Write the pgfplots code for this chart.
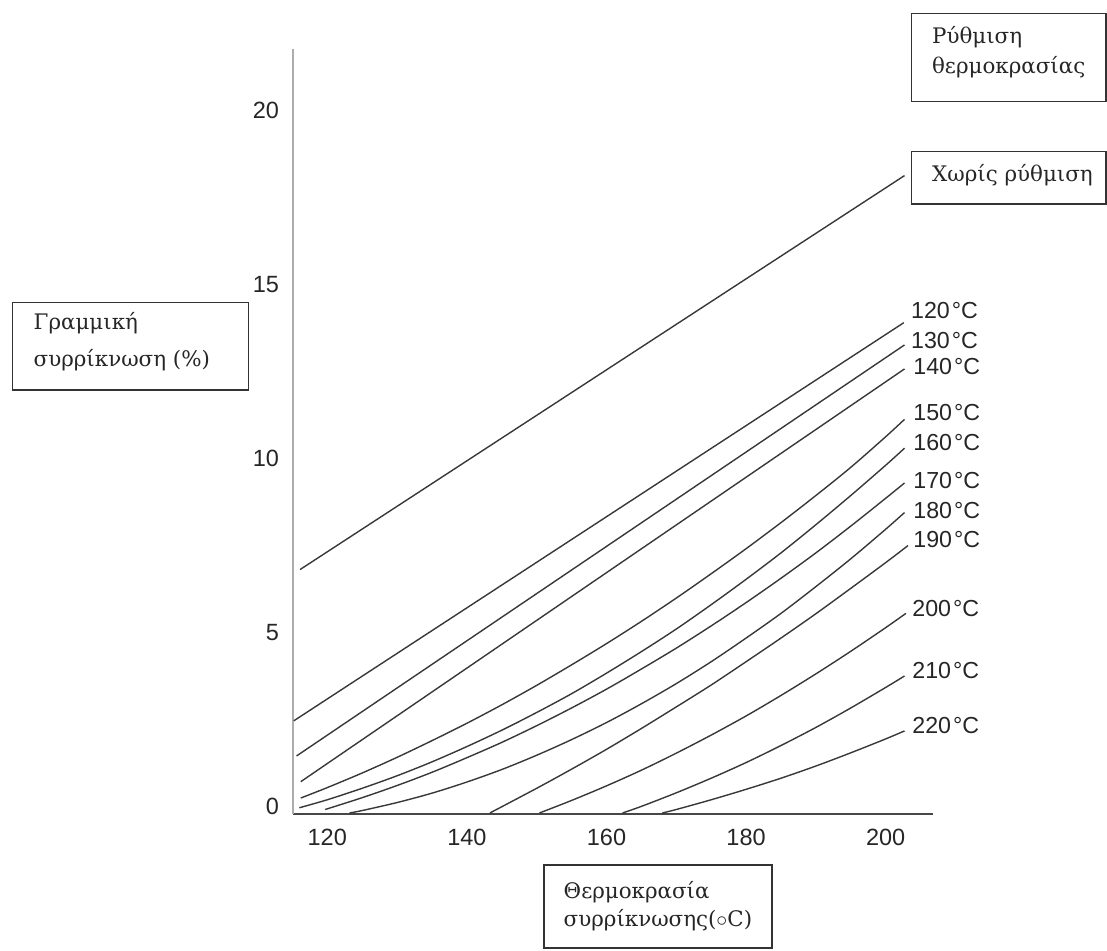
\documentclass[border=0pt]{standalone}
\usepackage{pgfplots}
\pgfplotsset{compat=1.18}
\usepackage{fontspec}
\setmainfont{Liberation Sans}
\newfontfamily\grk{DejaVu Serif}
\begin{document}
\begin{tikzpicture}
\path[use as bounding box] (0,0) rectangle (553.5pt,-475pt);
\begin{axis}[
  at={(146.5pt,-407pt)}, anchor=south west,
  scale only axis, width=320pt, height=382.5pt,
  xmin=115.09, xmax=206.78, ymin=-0.23, ymax=21.77,
  axis x line=bottom, axis y line=left,
  axis line style={-},
  x axis line style={-, black!72, line width=1pt},
  y axis line style={-, black!32, line width=1.3pt},
  xtick={120,140,...,200}, ytick={0,5,10,15,20},
  major tick length=0pt,
  tick label style={font=\fontsize{11.75}{13}\selectfont, text=black!85},
  /pgf/number format/assume math mode=true,
  xticklabel style={yshift=-4pt},
  yticklabel style={xshift=-3.5pt},
  cv/.style={black!78, line width=0.7pt, mark=none, smooth},
  clip=false,
]
% no temperature control
\addplot[cv] coordinates {(116.1,6.8) (202.7,18.13)};
% 120
\addplot[cv] coordinates {(115.2,2.45) (202.6,13.9)};
% 130
\addplot[cv] coordinates {(115.6,1.44) (202.7,13.26)};
% 140
\addplot[cv] coordinates {(116.2,0.70) (202.7,12.57)};
% 150
\addplot[cv] coordinates {(116.2,0.23) (120,0.53) (125,0.95) (130,1.40) (135,1.88) (140,2.38) (145,2.91) (150,3.47) (155,4.06) (160,4.67) (165,5.31) (170,5.98) (175,6.68) (180,7.40) (185,8.15) (190,8.93) (195,9.74) (200,10.62) (202.7,11.12)};
% 160
\addplot[cv] coordinates {(116,-0.05) (120,0.18) (125,0.51) (130,0.87) (135,1.27) (140,1.71) (145,2.18) (150,2.69) (155,3.23) (160,3.82) (165,4.44) (170,5.09) (175,5.79) (180,6.52) (185,7.28) (190,8.09) (195,8.93) (200,9.80) (202.7,10.29)};
% 170
\addplot[cv] coordinates {(119.7,-0.1) (125,0.24) (130,0.59) (135,0.97) (140,1.39) (145,1.83) (150,2.31) (155,2.82) (160,3.36) (165,3.94) (170,4.54) (175,5.18) (180,5.85) (185,6.55) (190,7.28) (195,8.05) (200,8.85) (202.7,9.29)};
% 180
\addplot[cv] coordinates {(123.2,-0.2) (125,-0.13) (130,0.10) (135,0.37) (140,0.69) (145,1.05) (150,1.46) (155,1.91) (160,2.40) (165,2.94) (170,3.52) (175,4.15) (180,4.83) (185,5.54) (190,6.31) (195,7.11) (200,7.96) (202.7,8.44)};
% 190
\addplot[cv] coordinates {(143.3,-0.2) (150,0.51) (155,1.06) (160,1.63) (165,2.23) (170,2.85) (175,3.48) (180,4.15) (185,4.83) (190,5.53) (195,6.26) (200,7.00) (203.2,7.49)};
% 200
\addplot[cv] coordinates {(150.4,-0.2) (155,0.16) (160,0.58) (165,1.03) (170,1.52) (175,2.04) (180,2.59) (185,3.18) (190,3.80) (195,4.45) (200,5.13) (202.9,5.54)};
% 210
\addplot[cv] coordinates {(162.3,-0.2) (165,-0.01) (170,0.38) (175,0.80) (180,1.25) (185,1.74) (190,2.26) (195,2.82) (200,3.41) (202.7,3.74)};
% 220
\addplot[cv] coordinates {(168,-0.2) (170,-0.10) (175,0.18) (180,0.48) (185,0.80) (190,1.15) (195,1.53) (200,1.93) (202.7,2.16)};
\end{axis}
\begin{scope}[x=0.5pt,y=-0.5pt]
\tikzset{bx/.style={draw=black!80, line width=0.75pt},
  gt/.style={anchor=west, inner sep=0pt, font=\grk\fontsize{10.7}{12}\selectfont, text=black!85},
  cl/.style={anchor=west, inner sep=0pt, font=\fontsize{11.6}{13}\selectfont, text=black!85}}
\draw[bx] (911.7,13.3) rectangle (1106,101.7);
\node[gt] at (931.7,36.7) {Ρύθμιση};
\node[gt] at (931.7,66.7) {θερμοκρασίας};
\draw[bx] (911.7,151.7) rectangle (1106,204);
\node[gt] at (931.7,175) {Χωρίς ρύθμιση};
\draw[bx] (12.7,302.3) rectangle (248.3,390);
\node[gt] at (33.3,323) {Γραμμική};
\node[gt] at (33.3,360) {συρρίκνωση (\%)};
\draw[bx] (544,865) rectangle (772,948);
\node[gt] at (563.3,891.7) {Θερμοκρασία};
\node[gt] at (563.3,920) {συρρίκνωσης($\circ$C)};
\node[cl] at (910.7,310.7) {120\kern1pt°C};
\node[cl] at (910.7,340.7) {130\kern1pt°C};
\node[cl] at (913,366) {140\kern1pt°C};
\node[cl] at (913,412.7) {150\kern1pt°C};
\node[cl] at (913,442.7) {160\kern1pt°C};
\node[cl] at (913,480) {170\kern1pt°C};
\node[cl] at (913,510) {180\kern1pt°C};
\node[cl] at (913,539.3) {190\kern1pt°C};
\node[cl] at (912,608.3) {200\kern1pt°C};
\node[cl] at (912,670.7) {210\kern1pt°C};
\node[cl] at (912,725) {220\kern1pt°C};
\end{scope}
\end{tikzpicture}
\end{document}
